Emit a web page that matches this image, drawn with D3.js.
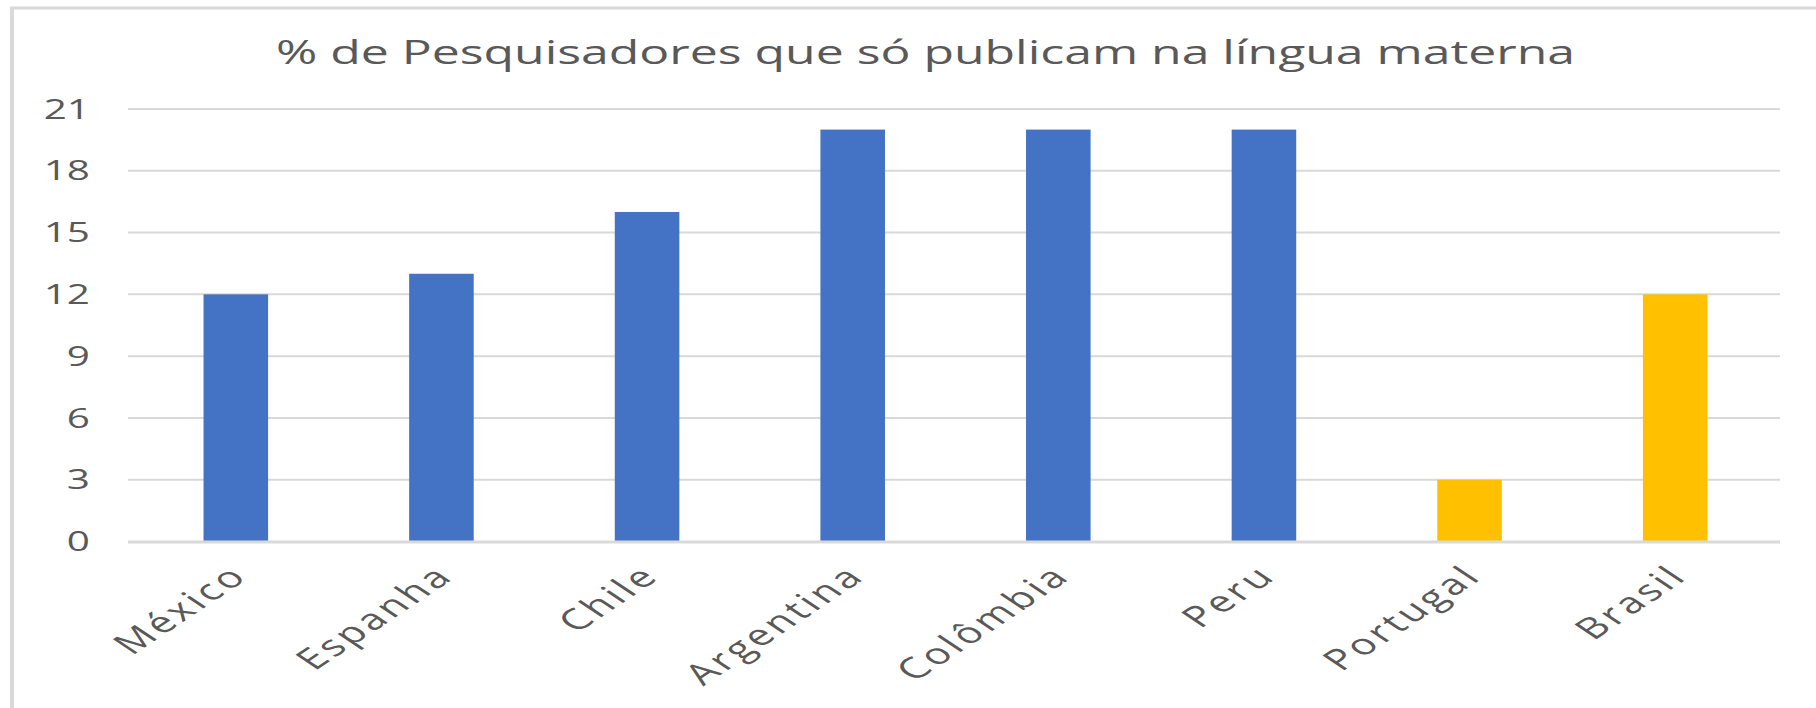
<!DOCTYPE html>
<html>
<head>
<meta charset="utf-8">
<script src="https://cdn.jsdelivr.net/npm/d3@7"></script>
<style>
  html, body { margin: 0; padding: 0; background: #fff; }
  svg { display: block; }
  text { font-family: "Open Sans", "Noto Sans", sans-serif; fill: #595959; }
</style>
</head>
<body>
<svg id="chart" width="1816" height="708"></svg>
<script>
// ---- data ----
const categories = ["México", "Espanha", "Chile", "Argentina", "Colômbia", "Peru", "Portugal", "Brasil"];
const values = [12, 13, 16, 20, 20, 20, 3, 12];
const barColors = ["#4472C4", "#4472C4", "#4472C4", "#4472C4", "#4472C4", "#4472C4", "#FFC000", "#FFC000"];
const yTicks = [0, 3, 6, 9, 12, 15, 18, 21];
const title = "% de Pesquisadores que só publicam na língua materna";

// ---- layout ----
const W = 1816, H = 708;
const SX = 1.5; // horizontal stretch of text in the reference
const svg = d3.select("#chart");

// frame
svg.append("line").attr("x1", 12).attr("x2", 12).attr("y1", 7).attr("y2", H)
  .attr("stroke", "#d9d9d9").attr("stroke-width", 4);
svg.append("line").attr("x1", 10).attr("x2", W).attr("y1", 8).attr("y2", 8)
  .attr("stroke", "#d9d9d9").attr("stroke-width", 3);

const gridX0 = 128, gridX1 = 1780;
const x = d3.scaleBand().domain(categories).range([133, 1778]).paddingInner(0).paddingOuter(0);
const barFrac = 0.314;
const y = d3.scaleLinear().domain([0, 21]).range([541.5, 109]);

// gridlines
svg.append("g").selectAll("line").data(yTicks.filter(t => t !== 0)).join("line")
  .attr("x1", gridX0).attr("x2", gridX1)
  .attr("y1", d => y(d)).attr("y2", d => y(d))
  .attr("stroke", "#d9d9d9").attr("stroke-width", 2);

// bars
svg.append("g").selectAll("rect").data(categories).join("rect")
  .attr("x", d => x(d) + x.bandwidth() * (1 - barFrac) / 2)
  .attr("width", x.bandwidth() * barFrac)
  .attr("y", (d, i) => y(values[i]))
  .attr("height", (d, i) => y(0) - y(values[i]))
  .attr("fill", (d, i) => barColors[i]);

// zero axis line
svg.append("line").attr("x1", gridX0).attr("x2", gridX1)
  .attr("y1", y(0) + 0.5).attr("y2", y(0) + 0.5)
  .attr("stroke", "#d9d9d9").attr("stroke-width", 3);

// y axis labels
const yAxis = d3.axisLeft(y).tickValues(yTicks).tickSize(0).tickPadding(0);
const gy = svg.append("g").attr("transform", `translate(${gridX0},0)`).call(yAxis);
gy.select(".domain").remove();
gy.selectAll(".tick text")
  .attr("x", -38 / SX)
  .attr("dy", "0.34em")
  .attr("transform", `scale(${SX},1)`)
  .style("font-size", "27px")
  .style("font-family", '"Open Sans", sans-serif')
  .attr("fill", "#595959");

// x axis labels
const xAxis = d3.axisBottom(x).tickSize(0).tickPadding(0);
const gx = svg.append("g").attr("transform", `translate(0,${y(0)})`).call(xAxis);
gx.select(".domain").remove();
gx.selectAll(".tick text")
  .attr("y", 0).attr("dy", 0)
  .attr("text-anchor", "end")
  .attr("transform", `translate(14,36) scale(${SX},1) rotate(-45)`)
  .style("font-size", "29px")
  .style("letter-spacing", "2.5px")
  .style("font-family", '"Open Sans", sans-serif')
  .attr("fill", "#595959");

// title
svg.append("text")
  .attr("x", 276).attr("y", 63.5)
  .attr("textLength", 1299).attr("lengthAdjust", "spacingAndGlyphs")
  .style("font-size", "32px")
  .attr("fill", "#595959")
  .text(title);
</script>
</body>
</html>
